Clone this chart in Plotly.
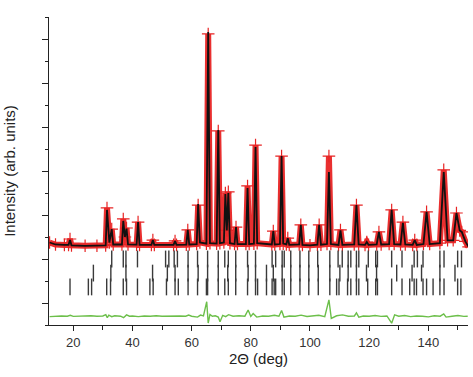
import plotly.graph_objects as go

# ---- data ----
two_theta = [12.0, 14.0, 17.0, 18.4, 18.9, 19.4, 24.0, 28.0, 30.95, 31.4, 32.2, 33.0, 33.5,
             36.45, 36.9, 37.45, 38.0, 38.5, 41.4, 41.9, 42.4, 46.4, 46.9, 47.4, 53.9, 54.4,
             54.9, 58.2, 58.7, 59.2, 61.7, 62.2, 62.8, 65.0, 65.6, 66.2, 68.45, 69.0, 69.55,
             70.9, 71.4, 71.9, 72.4, 72.95, 74.5, 75.0, 75.5, 78.35, 78.9, 79.45, 81.05, 81.6,
             82.15, 87.1, 87.6, 88.1, 89.85, 90.4, 90.95, 92.0, 92.5, 93.0, 96.35, 96.9, 97.45,
             100.0, 102.5, 103.1, 103.7, 105.75, 106.4, 107.05, 109.65, 110.3, 110.95, 114.95,
             115.7, 116.45, 118.6, 119.2, 119.8, 122.55, 123.3, 124.05, 126.75, 127.6, 128.45,
             130.6, 131.4, 132.2, 134.7, 135.4, 136.1, 138.35, 139.4, 140.45, 143.9, 145.2,
             146.5, 148.4, 149.5, 150.6, 151.3, 152.5, 153.6]
y_obs = [3.75, 3.66, 3.64, 3.64, 3.91, 3.62, 3.60, 3.60, 3.62, 5.32, 3.75, 4.36, 3.66,
         3.66, 4.82, 4.00, 4.41, 3.66, 3.65, 4.68, 3.64, 3.64, 3.86, 3.64, 3.64, 3.82,
         3.64, 3.65, 4.32, 3.66, 3.68, 5.45, 3.75, 3.70, 13.23, 3.72, 3.70, 8.82, 3.72,
         3.75, 6.00, 4.30, 6.05, 3.72, 3.68, 4.45, 3.68, 3.68, 6.32, 3.68, 3.70, 8.18,
         3.72, 3.66, 4.27, 3.66, 3.68, 7.68, 3.70, 3.66, 3.95, 3.64, 3.66, 4.55, 3.64,
         3.62, 3.65, 4.55, 3.65, 3.68, 7.68, 3.68, 3.64, 4.32, 3.64, 3.66,
         5.45, 3.66, 3.64, 3.77, 3.64, 3.66, 4.23, 3.66, 3.68, 5.23, 3.68,
         3.66, 4.68, 3.66, 3.64, 3.86, 3.64, 3.68, 5.14, 3.68, 3.72, 7.05,
         3.85, 3.85, 5.09, 4.30, 4.23, 3.80, 3.55]
y_calc = [3.75, 3.66, 3.64, 3.64, 3.86, 3.62, 3.60, 3.60, 3.62, 5.23, 3.75, 4.36, 3.66,
          3.66, 4.73, 4.00, 4.38, 3.66, 3.65, 4.68, 3.64, 3.64, 3.86, 3.64, 3.64, 3.82,
          3.64, 3.65, 4.32, 3.66, 3.68, 5.50, 3.75, 3.70, 13.32, 3.72, 3.70, 8.86, 3.72,
          3.75, 5.95, 4.30, 6.00, 3.72, 3.68, 4.45, 3.68, 3.68, 6.23, 3.68, 3.70, 8.09,
          3.72, 3.66, 4.27, 3.66, 3.68, 7.68, 3.70, 3.66, 3.95, 3.64, 3.66, 4.55, 3.64,
          3.62, 3.65, 4.55, 3.65, 3.68, 6.95, 3.68, 3.64, 4.30, 3.64, 3.66,
          5.45, 3.66, 3.64, 3.77, 3.64, 3.66, 4.23, 3.66, 3.68, 5.23, 3.68,
          3.66, 4.64, 3.66, 3.64, 3.86, 3.64, 3.68, 5.14, 3.68, 3.72, 6.95,
          3.85, 3.85, 5.09, 4.30, 4.23, 3.80, 3.55]

diff_x = [12, 14, 16, 18, 19, 20, 22, 24, 26, 28, 30, 31, 31.5, 32, 33, 34, 36, 37, 38, 39,
          40, 42, 44, 46, 48, 50, 52, 54, 56, 58, 59, 60, 62, 63, 64, 65.1, 65.6, 66.2, 67,
          68, 69, 69.6, 70.5, 71.5, 72.5, 74, 76, 78, 79.1, 80, 80.8, 82, 84, 86, 88, 89.5,
          90.4, 91.2, 93, 95, 97, 99, 101, 103, 105, 106.4, 107.2, 109, 111, 113, 115, 115.7,
          116.5, 118, 120, 122, 124, 126, 127.6, 128.6, 130, 132, 134, 136, 138, 140, 142,
          144, 145.2, 146, 148, 150, 152, 153.3]
diff_y = [0.38, 0.40, 0.41, 0.40, 0.44, 0.39, 0.41, 0.40, 0.42, 0.40, 0.41, 0.47, 0.33, 0.45,
          0.38, 0.42, 0.40, 0.33, 0.46, 0.40, 0.41, 0.38, 0.41, 0.40, 0.42, 0.40, 0.41, 0.39,
          0.41, 0.40, 0.45, 0.40, 0.36, 0.45, 0.41, 1.06, 0.09, 0.48, 0.40, 0.42, 0.36, 0.15,
          0.44, 0.38, 0.47, 0.40, 0.42, 0.40, 0.68, 0.39, 0.52, 0.36, 0.41, 0.40, 0.44, 0.40,
          0.66, 0.36, 0.41, 0.40, 0.45, 0.39, 0.41, 0.44, 0.38, 1.14, 0.30, 0.42, 0.46, 0.40,
          0.41, 0.55, 0.36, 0.41, 0.40, 0.43, 0.39, 0.41, 0.08, 0.46, 0.40, 0.43, 0.38, 0.41,
          0.40, 0.37, 0.42, 0.40, 0.50, 0.36, 0.40, 0.43, 0.39, 0.40]

# Bragg reflection positions for the three phases
refl_phase1 = [33.0, 36.9, 37.8, 41.7, 51.2, 52.3, 54.1, 55.2, 58.8, 62.0, 65.4, 69.0,
               71.2, 72.4, 74.9, 78.9, 81.6, 87.2, 88.4, 90.6, 91.3, 93.5, 96.6, 99.6,
               102.6, 106.7, 109.5, 110.9, 112.9, 113.8, 115.7, 116.5, 119.7, 122.2,
               122.8, 127.6, 131.1, 135.2, 136.3, 138.2, 143.9, 145.3, 149.9, 151.2]
refl_phase2 = [26.8, 32.7, 37.8, 46.8, 51.8, 54.4, 58.8, 62.2, 65.4, 69.0, 72.2, 74.9,
               79.1, 81.6, 85.3, 87.6, 90.6, 93.5, 96.6, 99.6, 102.8, 106.7, 110.1,
               112.9, 115.7, 119.1, 122.5, 129.3, 134.5, 137.7, 143.9, 149.0]
refl_phase3 = [18.9, 25.1, 26.2, 31.3, 32.6, 36.9, 38.0, 41.7, 45.9, 47.0, 51.5, 54.4,
               55.5, 58.8, 62.0, 65.0, 65.4, 69.0, 71.2, 72.4, 74.9, 78.9, 81.6, 82.3,
               85.3, 87.2, 87.9, 88.4, 90.6, 91.3, 93.5, 96.6, 99.6, 102.8, 106.7, 109.0,
               109.8, 112.7, 113.8, 115.7, 116.5, 119.5, 122.2, 122.8, 127.6, 131.1,
               133.7, 135.2, 136.0, 138.2, 139.4, 141.6, 143.9, 145.3, 149.9, 151.0]

x_tick_vals = [20, 40, 60, 80, 100, 120, 140]
x_tick_text = ["20", "40", "60", "80", "100", "120", "140"]

FONT = "Arial, 'Liberation Sans', sans-serif"

fig = go.Figure()

# observed (red band + crosses)
fig.add_trace(go.Scatter(
    x=two_theta, y=y_obs, mode="lines",
    line=dict(color="rgba(232,36,36,0.95)", width=6),
    hoverinfo="skip", showlegend=False))
fig.add_trace(go.Scatter(
    x=two_theta, y=y_obs, mode="markers",
    marker=dict(symbol="cross-thin", size=9, line=dict(color="#e82424", width=1.2)),
    hoverinfo="skip", showlegend=False))

# calculated
fig.add_trace(go.Scatter(
    x=two_theta, y=y_calc, mode="lines",
    line=dict(color="#111111", width=1.8),
    hoverinfo="skip", showlegend=False))

# reflection markers
for refl, lev in ((refl_phase1, 3.0), (refl_phase2, 2.36), (refl_phase3, 1.73)):
    fig.add_trace(go.Scatter(
        x=refl, y=[lev] * len(refl), mode="markers",
        marker=dict(symbol="line-ns", size=12, line=dict(color="#3a3a3a", width=1.4)),
        hoverinfo="skip", showlegend=False))

# difference
fig.add_trace(go.Scatter(
    x=diff_x, y=diff_y, mode="lines",
    line=dict(color="#6cbf4a", width=1.4),
    hoverinfo="skip", showlegend=False))

fig.update_layout(
    width=473, height=377,
    margin=dict(l=49, r=5, t=17, b=52),
    paper_bgcolor="white", plot_bgcolor="white",
    font=dict(family=FONT, color="#222222", size=13),
)
fig.update_xaxes(
    range=[11.8, 153.4], showgrid=False, zeroline=False,
    showline=True, linecolor="#222222", linewidth=1.3,
    ticks="outside", ticklen=5, tickwidth=1.3, tickcolor="#222222",
    tickvals=x_tick_vals, ticktext=x_tick_text,
    tickfont=dict(size=13, color="#333333"),
    minor=dict(tickvals=[30, 50, 70, 90, 110, 130, 150], ticks="outside", ticklen=4,
               tickwidth=1.3, tickcolor="#222222"),
    title=dict(text="2\u0398 (deg)", font=dict(size=15, color="#222222"), standoff=4),
)
fig.update_yaxes(
    range=[0, 14], showgrid=False, zeroline=False,
    showline=True, linecolor="#222222", linewidth=1.3,
    ticks="outside", ticklen=6, tickwidth=1.3, tickcolor="#222222",
    tick0=1, dtick=2, showticklabels=False,
    minor=dict(tick0=0, dtick=1, ticks="outside", ticklen=3, tickwidth=1.3,
               tickcolor="#222222"),
    title=dict(text="Intensity (arb. units)", font=dict(size=15, color="#222222"), standoff=22),
)

fig.write_html("out.html", config={"displayModeBar": False},
               post_script="document.body.style.margin='0';")
